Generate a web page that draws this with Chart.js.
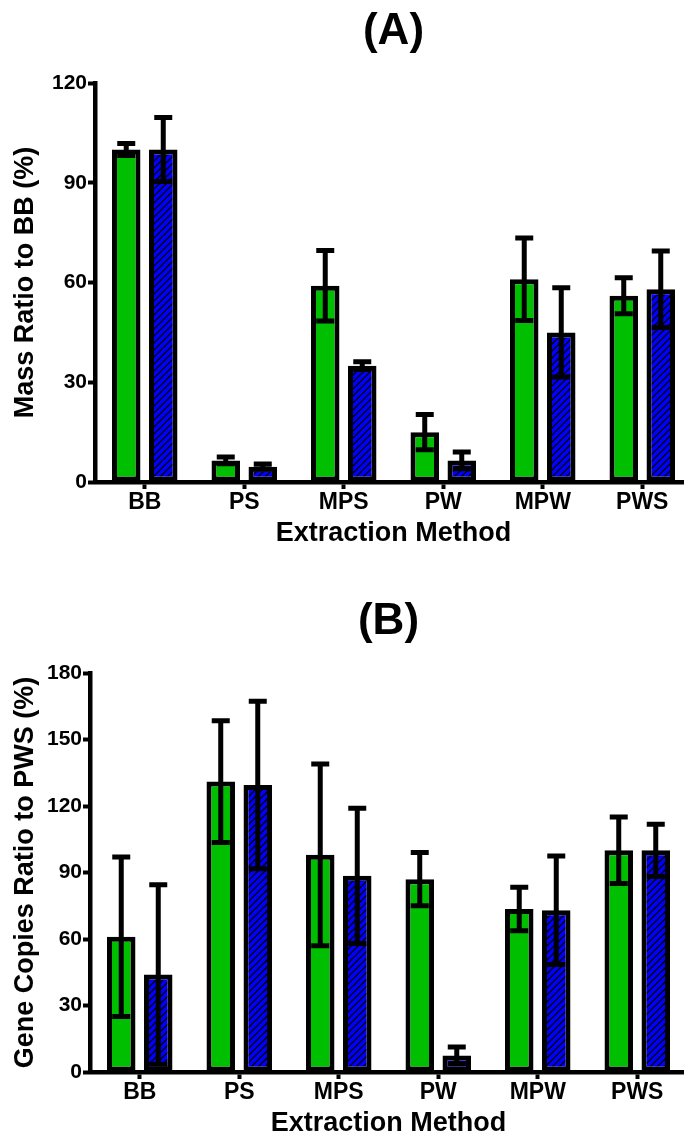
<!DOCTYPE html>
<html>
<head>
<meta charset="utf-8">
<script src="https://cdn.jsdelivr.net/npm/chart.js@4.4.1/dist/chart.umd.min.js"></script>
<style>
  html, body { margin: 0; padding: 0; background: #fff; overflow: hidden; width: 684px; height: 1140px; }
  .panel { position: absolute; left: 0; width: 700px; height: 590px; }
</style>
</head>
<body>
<div class="panel" style="top:0"><canvas id="chartA" width="700" height="590"></canvas></div>
<div class="panel" style="top:590px"><canvas id="chartB" width="700" height="590"></canvas></div>
<script>
// Datos
const methods = ['BB', 'PS', 'MPS', 'PW', 'MPW', 'PWS'];

const massGreen = [100, 6.5, 59, 15, 61, 56];
const massGreenErr = [1.8, 1.0, 10.6, 5.3, 12.4, 5.4];
const massBlue = [100, 4.6, 35, 6.5, 45, 58];
const massBlueErr = [9.6, 0.8, 1.2, 2.5, 13.4, 11.5];

const geneGreen = [61, 131, 98, 87, 73.5, 100];
const geneGreenErr = [36, 27.5, 41, 12, 9.8, 15];
const geneBlue = [44, 129.5, 88.5, 7.5, 73, 100];
const geneBlueErr = [40.5, 37.8, 30.5, 3.8, 24.5, 11.8];

const massTicks = [0, 30, 60, 90, 120];
const geneTicks = [0, 30, 60, 90, 120, 150, 180];

const GREEN = '#00bf00';
const BLUE = '#0000ff';
const FONT = '"Liberation Sans", Arial, Helvetica, sans-serif';

Chart.defaults.font.family = FONT;
Chart.defaults.font.weight = 'bold';
Chart.defaults.color = '#000';

// Relleno azul con rayado diagonal
function hatchPattern() {
  const s = 7;
  const c = document.createElement('canvas');
  c.width = s; c.height = s;
  const g = c.getContext('2d');
  g.fillStyle = BLUE;
  g.fillRect(0, 0, s, s);
  g.strokeStyle = '#000';
  g.lineWidth = 1.3;
  g.beginPath();
  g.moveTo(0, s); g.lineTo(s, 0);
  g.moveTo(-1, 1); g.lineTo(1, -1);
  g.moveTo(s - 1, s + 1); g.lineTo(s + 1, s - 1);
  g.stroke();
  return g.createPattern(c, 'repeat');
}

// Barras de error (arriba y abajo)
const errorBarPlugin = {
  id: 'errorBars',
  afterDatasetsDraw(chart, args, opts) {
    const { ctx } = chart;
    const y = chart.scales.y;
    chart.data.datasets.forEach((ds, i) => {
      const meta = chart.getDatasetMeta(i);
      const errs = opts.errors[i];
      meta.data.forEach((bar, j) => {
        const v = ds.data[j];
        const e = errs[j];
        const yTop = y.getPixelForValue(v + e);
        const yBot = y.getPixelForValue(Math.max(0, v - e));
        ctx.save();
        ctx.strokeStyle = '#000';
        ctx.lineWidth = 5;
        ctx.beginPath();
        ctx.moveTo(bar.x, yTop); ctx.lineTo(bar.x, yBot);
        ctx.moveTo(bar.x - 9, yTop); ctx.lineTo(bar.x + 9, yTop);
        ctx.moveTo(bar.x - 9, yBot); ctx.lineTo(bar.x + 9, yBot);
        ctx.stroke();
        ctx.restore();
      });
    });
  }
};

// Etiqueta del panel: (A) / (B)
const panelLabelPlugin = {
  id: 'panelLabel',
  afterDraw(chart, args, opts) {
    const { ctx, chartArea } = chart;
    ctx.save();
    ctx.font = `bold 44px ${FONT}`;
    ctx.fillStyle = '#000';
    ctx.textAlign = 'center';
    ctx.textBaseline = 'alphabetic';
    ctx.fillText(opts.text, (chartArea.left + chartArea.right) / 2, 44);
    ctx.restore();
  }
};

function makeChart(id, label, yTitle, tickVals, green, greenErr, blue, blueErr, axisLeft) {
  const yMax = tickVals[tickVals.length - 1];
  return new Chart(document.getElementById(id), {
    type: 'bar',
    data: {
      labels: methods,
      datasets: [
        {
          data: green,
          backgroundColor: GREEN,
          borderColor: '#000',
          borderWidth: 5,
          borderSkipped: false,
          categoryPercentage: 0.744,
          barPercentage: 0.77
        },
        {
          data: blue,
          backgroundColor: hatchPattern(),
          borderColor: '#000',
          borderWidth: 5,
          borderSkipped: false,
          categoryPercentage: 0.744,
          barPercentage: 0.77
        }
      ]
    },
    options: {
      responsive: false,
      animation: false,
      layout: { padding: { top: 83, right: 700 - axisLeft - 597, bottom: 0, left: 0 } },
      plugins: {
        legend: { display: false },
        tooltip: { enabled: false },
        errorBars: { errors: [greenErr, blueErr] },
        panelLabel: { text: label }
      },
      scales: {
        x: {
          offset: true,
          grid: { offset: false, drawOnChartArea: false, tickLength: 7, tickWidth: 4, color: '#000' },
          border: { display: true, width: 4.5, color: '#000' },
          ticks: { padding: 0, color: '#000', font: { size: 23, weight: 'bold' } },
          title: {
            display: true,
            text: 'Extraction Method',
            color: '#000',
            font: { size: 27, weight: 'bold', lineHeight: 1 },
            padding: { top: 0, bottom: 43 }
          },
          afterFit(s) { s.height = 108; s.paddingLeft = 0; s.paddingRight = 0; }
        },
        y: {
          min: 0,
          max: yMax,
          afterBuildTicks(s) { s.ticks = tickVals.map(v => ({ value: v })); },
          grid: { drawOnChartArea: false, tickLength: 7, tickWidth: 4, color: '#000' },
          border: { display: true, width: 4.5, color: '#000' },
          ticks: { padding: 1, color: '#000', font: { size: 21, weight: 'bold' } },
          title: {
            display: true,
            text: yTitle,
            color: '#000',
            font: { size: 27, weight: 'bold', lineHeight: 1 },
            padding: { top: 12.5, bottom: 0 }
          },
          afterFit(s) { s.width = axisLeft; s.paddingTop = 0; s.paddingBottom = 0; }
        }
      }
    },
    plugins: [errorBarPlugin, panelLabelPlugin]
  });
}

makeChart('chartA', '(A)', 'Mass Ratio to BB (%)', massTicks,
  massGreen, massGreenErr, massBlue, massBlueErr, 95);
makeChart('chartB', '(B)', 'Gene Copies Ratio to PWS (%)', geneTicks,
  geneGreen, geneGreenErr, geneBlue, geneBlueErr, 90);
</script>
</body>
</html>
